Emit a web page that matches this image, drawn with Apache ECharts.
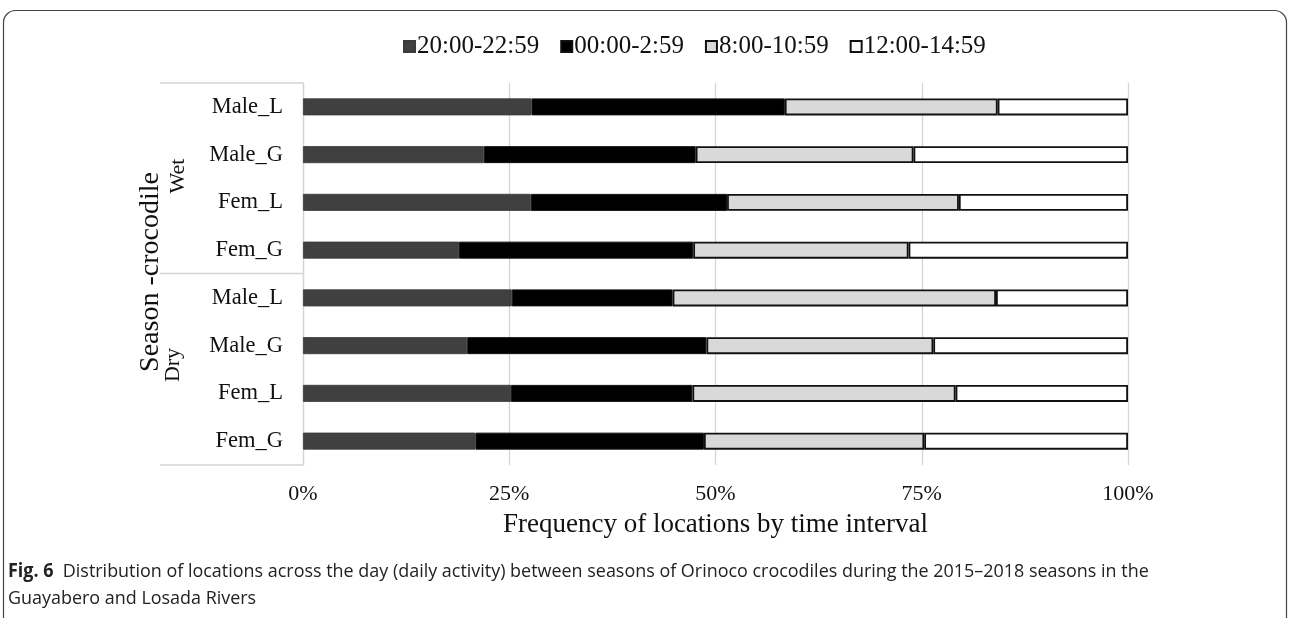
<!DOCTYPE html>
<html>
<head>
<meta charset="utf-8">
<script src="https://cdn.jsdelivr.net/npm/echarts@6/dist/echarts.min.js"></script>
<style>html,body{margin:0;padding:0;background:#fff;}#c{width:1290px;height:618px;}</style>
</head>
<body>
<div id="c"></div>
<script>
const categories = ['Wet|Male_L','Wet|Male_G','Wet|Fem_L','Wet|Fem_G','Dry|Male_L','Dry|Male_G','Dry|Fem_L','Dry|Fem_G'];
const seriesNames = ['20:00-22:59','00:00-2:59','8:00-10:59','12:00-14:59'];
const night1 = [27.7, 21.9, 27.6, 18.9, 25.3, 19.9, 25.2, 20.9];
const night2 = [30.7, 25.7, 23.8, 28.4, 19.5, 29.0, 22.0, 27.7];
const morning = [25.8, 26.4, 28.1, 26.1, 39.2, 27.5, 31.9, 26.7];
const midday = [15.8, 26.0, 20.5, 26.6, 16.0, 23.6, 20.9, 24.7];
const xTicks = [0, 25, 50, 75, 100];

const serif = '"Liberation Serif", "DejaVu Serif", serif';
const colors = ['#404040', '#000000', '#d9d9d9', '#ffffff'];
const values = [night1, night2, morning, midday];

const chart = echarts.init(document.getElementById('c'));
const series = values.map((v, i) => ({
  name: seriesNames[i],
  type: 'bar',
  stack: 'total',
  barWidth: 17,
  data: v,
  itemStyle: {
    color: colors[i],
    borderColor: i === 0 ? '#3a3a3a' : '#111',
    borderWidth: i === 0 ? 0.8 : (i === 1 ? 1 : 1.8)
  }
}));

chart.setOption({
  animation: false,
  backgroundColor: '#fff',
  legend: {
    top: 29,
    left: 398,
    itemWidth: 11,
    itemHeight: 11,
    itemGap: 21,
    icon: 'rect',
    textStyle: { fontFamily: serif, fontSize: 25, color: '#111', padding: [0, 0, 0, -3] },
    data: seriesNames
  },
  grid: { left: 303, right: 162, top: 83, bottom: 153, containLabel: false },
  xAxis: {
    type: 'value',
    min: 0, max: 100, interval: 25,
    axisLine: { show: false },
    axisTick: { show: false },
    splitLine: { show: true, lineStyle: { color: '#d4d4d4', width: 1.3 } },
    axisLabel: {
      fontFamily: serif, fontSize: 22, color: '#111', margin: 18,
      formatter: v => xTicks.includes(v) ? v + '%' : ''
    },
    name: 'Frequency of locations by time interval',
    nameLocation: 'middle',
    nameGap: 46,
    nameTextStyle: { fontFamily: serif, fontSize: 27, color: '#111' }
  },
  yAxis: {
    type: 'category',
    inverse: true,
    data: categories,
    axisLine: { show: true, lineStyle: { color: '#d4d4d4', width: 1.3 } },
    axisTick: { show: false },
    axisLabel: {
      fontFamily: serif, fontSize: 22.5, color: '#111', margin: 20,
      formatter: v => v.split('|')[1]
    }
  },
  graphic: [
    { type: 'rect', shape: { x: 3.5, y: 10.5, width: 1283, height: 640, r: [12, 12, 0, 0] },
      style: { fill: 'none', stroke: '#444', lineWidth: 1.2 }, silent: true },
    { type: 'line', shape: { x1: 160, y1: 83, x2: 303, y2: 83 }, style: { stroke: '#d4d4d4', lineWidth: 1.3 } },
    { type: 'line', shape: { x1: 160, y1: 273.5, x2: 303, y2: 273.5 }, style: { stroke: '#d4d4d4', lineWidth: 1.3 } },
    { type: 'line', shape: { x1: 160, y1: 465, x2: 303, y2: 465 }, style: { stroke: '#d4d4d4', lineWidth: 1.3 } },
    { type: 'text', x: 151, y: 272, rotation: Math.PI / 2,
      style: { text: 'Season -crocodile', fontFamily: serif, fontSize: 28, fill: '#111', align: 'center', verticalAlign: 'middle' } },
    { type: 'text', x: 178, y: 176, rotation: Math.PI / 2,
      style: { text: 'Wet', fontFamily: serif, fontSize: 22, fill: '#111', align: 'center', verticalAlign: 'middle' } },
    { type: 'text', x: 173, y: 365, rotation: Math.PI / 2,
      style: { text: 'Dry', fontFamily: serif, fontSize: 22, fill: '#111', align: 'center', verticalAlign: 'middle' } },
    { type: 'text', x: 8, y: 558, scaleX: 0.944,
      style: {
        text: '{b|Fig. 6}  Distribution of locations across the day (daily activity) between seasons of Orinoco crocodiles during the 2015–2018 seasons in the\nGuayabero and Losada Rivers',
        fontFamily: '"Open Sans", sans-serif', fontSize: 19, fill: '#222', lineHeight: 27,
        rich: { b: { fontFamily: '"Open Sans", sans-serif', fontWeight: 'bold', fontSize: 19, fill: '#222' } }
      } }
  ],
  series: series
});
</script>
</body>
</html>
